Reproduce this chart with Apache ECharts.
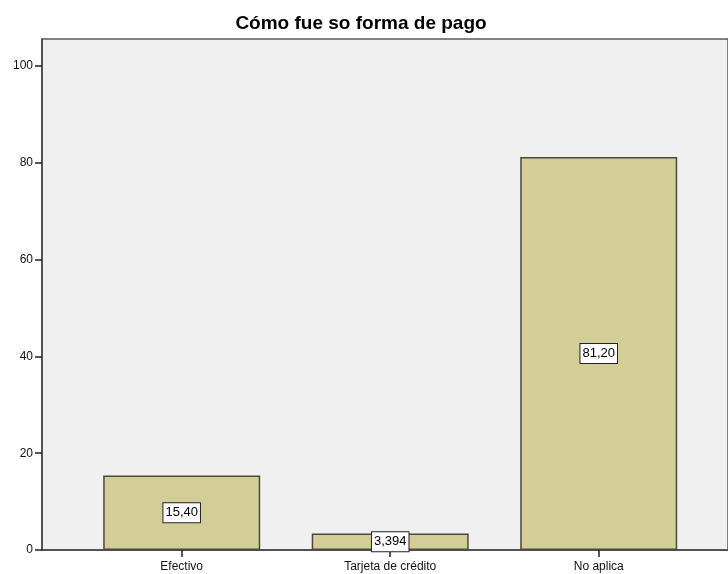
<!DOCTYPE html>
<html>
<head>
<meta charset="utf-8">
<script src="https://cdn.jsdelivr.net/npm/echarts@6/dist/echarts.min.js"></script>
<style>
  html, body { margin: 0; padding: 0; background: #fff; }
  #main { width: 728px; height: 574px; }
</style>
</head>
<body>
<div id="main"></div>
<script>
var categories = ['Efectivo', 'Tarjeta de crédito', 'No aplica'];
var values = [15.40, 3.394, 81.20];
var yTicks = [0, 20, 40, 60, 80, 100];

var myChart = echarts.init(document.getElementById('main'));

// barras en eje de valores para ubicar las categorias como en el original
var barData = values.map(function (v, i) { return [i, v]; });

var option = {
  animation: false,
  title: {
    text: 'Cómo fue so forma de pago',
    left: 356,
    textAlign: 'center',
    top: 9,
    textStyle: {
      fontFamily: 'Liberation Sans',
      fontSize: 19,
      fontWeight: 'bold',
      color: '#000'
    }
  },
  grid: {
    left: 42,
    right: -2,
    top: 39,
    bottom: 24,
    show: true,
    backgroundColor: '#f0f0f0',
    borderColor: '#5a5a5a',
    borderWidth: 1.5
  },
  xAxis: {
    type: 'value',
    min: -0.67,
    max: 2.62,
    splitLine: { show: false },
    axisLine: { show: true, onZero: false, lineStyle: { color: '#444', width: 1.5 } },
    axisTick: {
      show: true,
      customValues: [0, 1, 2],
      length: 7,
      lineStyle: { color: '#222', width: 1.5 }
    },
    axisLabel: {
      customValues: [0, 1, 2],
      margin: 11,
      fontFamily: 'Liberation Sans',
      fontSize: 12,
      color: '#111',
      formatter: function (v) { return categories[Math.round(v)] || ''; }
    }
  },
  yAxis: {
    type: 'value',
    min: 0,
    max: 105.6,
    interval: 20,
    splitLine: { show: false },
    axisLine: { show: true, onZero: false, lineStyle: { color: '#444', width: 1.5 } },
    axisTick: {
      show: true,
      customValues: yTicks,
      length: 7,
      lineStyle: { color: '#222', width: 1.5 }
    },
    axisLabel: {
      customValues: yTicks,
      margin: 9,
      fontFamily: 'Liberation Sans',
      fontSize: 12,
      color: '#111'
    }
  },
  series: [
    {
      type: 'bar',
      data: barData,
      barWidth: 157,
      itemStyle: {
        color: '#d3ce98',
        borderColor: '#4a4a3c',
        borderWidth: 1.5
      },
      label: {
        show: true,
        position: 'inside',
        formatter: function (p) {
          return p.value[1].toPrecision(4).replace('.', ',');
        },
        fontFamily: 'Liberation Sans',
        fontSize: 13,
        color: '#000',
        backgroundColor: '#fff',
        borderColor: '#222',
        borderWidth: 1,
        padding: [3, 2, 3, 2]
      }
    }
  ]
};
myChart.setOption(option);
window.addEventListener('resize', function () {
  myChart.resize();
});
</script>
</body>
</html>
